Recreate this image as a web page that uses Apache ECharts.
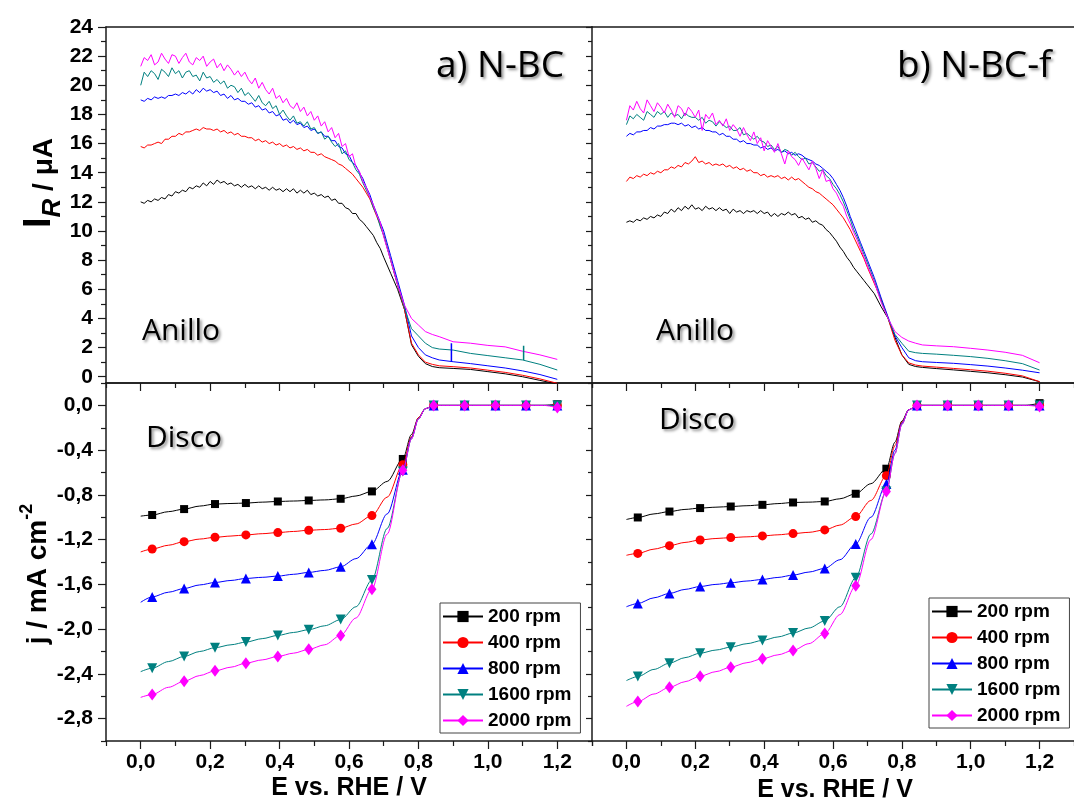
<!DOCTYPE html>
<html>
<head>
<meta charset="utf-8">
<script src="https://cdn.jsdelivr.net/npm/echarts@6/dist/echarts.min.js"></script>
<style>
  html, body { margin: 0; padding: 0; background: #fff; }
  #chart { width: 1074px; height: 800px; }
</style>
</head>
<body>
<div id="chart"></div>
<script>
// ---- datos ----
const rpmNames = ['200 rpm', '400 rpm', '800 rpm', '1600 rpm', '2000 rpm'];
const rpmColors = ['#000000', '#ff0000', '#0000ff', '#008080', '#ff00ff'];

// anillo (I_R / uA) vs E
const ringE = [
  0.00, 0.01, 0.02, 0.03, 0.04, 0.05, 0.06, 0.07, 0.08, 0.09,
  0.10, 0.11, 0.12, 0.13, 0.14, 0.15, 0.16, 0.17, 0.18, 0.19,
  0.20, 0.21, 0.22, 0.23, 0.24, 0.25, 0.26, 0.27, 0.28, 0.29,
  0.30, 0.31, 0.32, 0.33, 0.34, 0.35, 0.36, 0.37, 0.38, 0.39,
  0.40, 0.41, 0.42, 0.43, 0.44, 0.45, 0.46, 0.47, 0.48, 0.49,
  0.50, 0.51, 0.52, 0.53, 0.54, 0.55, 0.56, 0.57, 0.58, 0.59,
  0.60, 0.61, 0.62, 0.63, 0.64, 0.65, 0.66, 0.67, 0.68, 0.69,
  0.70, 0.72, 0.74, 0.76, 0.78, 0.80, 0.82, 0.84, 0.86, 0.90, 0.95, 1.00, 1.05, 1.10, 1.15, 1.20
];

const ringA200 = [
  12.0, 11.9, 12.1, 12.0, 12.2, 12.1, 12.3, 12.2, 12.5, 12.4,
  12.7, 12.6, 12.8, 12.7, 13.0, 12.9, 13.1, 13.0, 13.3, 13.1,
  13.4, 13.2, 13.5, 13.3, 13.4, 13.2, 13.3, 13.1, 13.2, 13.0,
  13.2, 13.0, 13.1, 12.9, 13.1, 12.9, 13.0, 12.8, 13.0, 12.8,
  12.9, 12.7, 12.9, 12.7, 12.9, 12.6, 12.8, 12.6, 12.8, 12.5,
  12.6, 12.4, 12.5, 12.3, 12.4, 12.1, 12.2, 11.9, 11.9, 11.6,
  11.5, 11.2, 11.2, 10.8, 10.6, 10.3, 10.0, 9.7, 9.2, 8.8,
  8.2, 7.1, 6.0, 4.6, 2.2, 1.4, 0.9, 0.7, 0.62, 0.57, 0.5, 0.35, 0.2, 0.0, -0.25, -0.5
];
const ringA400 = [
  15.8, 15.7, 15.9, 15.9, 16.0, 16.1, 16.0, 16.3, 16.3, 16.5,
  16.5, 16.7, 16.6, 16.8, 16.8, 16.9, 17.0, 16.9, 17.1, 17.0,
  17.0, 16.9, 17.0, 16.8, 16.9, 16.7, 16.8, 16.6, 16.7, 16.5,
  16.5, 16.4, 16.4, 16.2, 16.3, 16.1, 16.2, 16.0, 16.1, 15.9,
  16.0, 15.8, 15.9, 15.7, 15.8, 15.6, 15.7, 15.5, 15.6, 15.4,
  15.4, 15.2, 15.3, 15.1, 15.0, 14.9, 14.8, 14.6, 14.5, 14.3,
  14.1, 13.9, 13.6, 13.3, 13.0, 12.6, 12.2, 11.6, 11.0, 10.4,
  9.7, 8.0, 6.3, 4.6, 2.3, 1.5, 1.0, 0.85, 0.75, 0.69, 0.6, 0.45, 0.3, 0.1, -0.15, -0.45
];
const ringA800 = [
  19.0, 18.9, 19.1, 19.0, 19.2, 19.1, 19.2, 19.1, 19.3, 19.3,
  19.4, 19.3, 19.5, 19.4, 19.6, 19.4, 19.7, 19.5, 19.8, 19.6,
  19.7, 19.5, 19.6, 19.3, 19.4, 19.1, 19.3, 19.0, 19.1, 18.9,
  18.9, 18.7, 18.8, 18.5, 18.6, 18.3, 18.4, 18.1, 18.2, 17.9,
  18.0, 17.6, 17.7, 17.4, 17.6, 17.3, 17.4, 17.1, 17.2, 16.9,
  17.0, 16.7, 16.8, 16.5, 16.5, 16.2, 16.2, 15.8, 15.7, 15.3,
  15.2, 14.7, 14.5, 14.0, 13.6, 13.0, 12.5, 11.8, 11.2, 10.6,
  10.0, 8.3, 6.6, 4.9, 2.8, 2.0, 1.5, 1.3, 1.15, 1.03, 0.9, 0.75, 0.6, 0.4, 0.15, -0.18
];
const ringA1600 = [
  20.0, 20.9, 20.6, 21.0, 20.8, 20.4, 21.1, 20.9, 20.6, 21.2,
  20.8, 21.0, 20.5, 20.9, 21.0, 20.6, 20.7, 20.3, 20.9, 20.5,
  20.6, 20.2, 20.4, 20.1, 20.3, 19.8, 20.0, 19.9, 19.5, 19.8,
  19.3, 19.5, 19.2, 18.9, 19.3, 18.8, 18.6, 18.9, 18.4, 18.6,
  18.0, 18.3, 17.9, 17.6, 17.9, 17.4, 17.5, 17.2, 17.5, 17.0,
  17.1, 16.7, 16.8, 16.3, 16.5, 16.1, 15.8, 16.0, 15.3, 15.5,
  14.9, 14.7, 14.2, 13.9, 13.3, 12.8, 12.3, 11.6, 11.1, 10.3,
  9.7, 8.0, 6.3, 4.7, 3.3, 2.8, 2.3, 2.0, 1.9, 1.83, 1.6, 1.45, 1.3, 1.15, 0.85, 0.46
];
const ringA2000 = [
  21.3, 21.9, 21.7, 22.1, 21.4, 21.6, 22.2, 21.8, 21.5, 22.1,
  22.0, 21.5, 21.9, 22.2, 21.6, 21.4, 21.9, 21.7, 22.0, 21.3,
  21.6, 21.8, 21.2, 21.5, 21.0, 21.4, 21.1, 20.7, 21.0, 20.6,
  20.9, 20.4, 20.1, 20.5, 19.8, 20.2, 19.7, 19.4, 19.8, 19.1,
  19.3, 18.8, 19.1, 18.6, 18.4, 18.8, 18.2, 18.5, 17.9, 18.2,
  17.6, 17.9, 17.2, 17.5, 16.8, 17.1, 16.4, 16.7, 15.8, 16.0,
  15.1, 15.3, 14.4, 14.1, 13.4, 13.0, 12.3, 11.8, 11.1, 10.6,
  9.6, 8.0, 6.3, 4.9, 4.0, 3.55, 3.1, 2.9, 2.75, 2.4, 2.3, 2.15, 2.05, 1.75, 1.5, 1.19
];
// picos sueltos en el panel a)
const spikeA800 = [[0.895, 1.03], [0.895, 2.29]];
const spikeA1600 = [[1.103, 1.15], [1.103, 2.13]];

const ringB200 = [
  10.6, 10.7, 10.6, 10.8, 10.7, 10.9, 10.8, 11.0, 10.9, 11.1,
  11.0, 11.3, 11.2, 11.5, 11.3, 11.6, 11.4, 11.7, 11.5, 11.8,
  11.5, 11.6, 11.4, 11.7, 11.5, 11.6, 11.4, 11.6, 11.4, 11.5,
  11.2, 11.5, 11.3, 11.4, 11.2, 11.4, 11.3, 11.4, 11.2, 11.4,
  11.2, 11.3, 11.0, 11.2, 11.0, 11.2, 11.1, 11.3, 11.1, 11.2,
  10.9, 11.0, 10.8, 10.9, 10.6, 10.7, 10.5, 10.4, 10.1, 9.9,
  9.6, 9.3, 8.9, 8.6, 8.2, 7.9, 7.5, 7.2, 6.9, 6.6,
  6.3, 5.7, 4.8, 4.0, 2.7, 1.5, 0.85, 0.7, 0.64, 0.56, 0.47, 0.37, 0.27, 0.14, -0.02, -0.34
];
const ringB400 = [
  13.4, 13.7, 13.6, 13.8, 13.7, 13.9, 13.8, 14.0, 13.9, 14.1,
  14.0, 14.2, 14.2, 14.4, 14.3, 14.5, 14.4, 14.7, 14.6, 14.8,
  15.1, 14.7, 14.8, 14.6, 14.7, 14.5, 14.6, 14.5, 14.6, 14.4,
  14.5, 14.3, 14.4, 14.2, 14.3, 14.1, 14.2, 14.0, 14.0, 13.8,
  13.9, 13.7, 13.8, 13.7, 13.8, 13.6, 13.7, 13.5, 13.7, 13.5,
  13.6, 13.4, 13.2, 13.0, 12.9, 12.7, 12.6, 12.4, 12.2, 12.0,
  11.8, 11.5, 11.2, 10.9, 10.5, 10.1, 9.6, 9.1, 8.6, 8.1,
  7.5, 6.4, 5.3, 4.0, 2.5, 1.5, 0.95, 0.8, 0.73, 0.66, 0.57, 0.48, 0.38, 0.24, 0.06, -0.34
];
const ringB800 = [
  16.5, 16.7, 16.6, 16.8, 16.8, 16.9, 16.9, 17.1, 17.0, 17.2,
  17.2, 17.3, 17.3, 17.4, 17.4, 17.3, 17.4, 17.2, 17.3, 17.1,
  17.2, 17.0, 17.1, 16.9, 16.9, 16.8, 16.8, 16.6, 16.7, 16.5,
  16.5, 16.3, 16.3, 16.1, 16.2, 16.0, 16.0, 15.9, 15.9, 15.7,
  15.8, 15.6, 15.7, 15.5, 15.6, 15.4, 15.5, 15.3, 15.4, 15.2,
  15.3, 15.2, 15.0, 14.9, 14.8, 14.6, 14.5, 14.3, 14.1, 13.9,
  13.6, 13.2, 12.8, 12.3, 11.7, 11.0, 10.4, 9.8, 9.2, 8.6,
  8.0, 6.8, 5.4, 4.1, 2.8, 2.0, 1.3, 1.1, 1.03, 0.98, 0.92, 0.83, 0.73, 0.6, 0.45, 0.27
];
const ringB1600 = [
  17.3, 17.9, 17.7, 18.0, 17.8, 17.6, 18.2, 18.0, 17.8, 18.2,
  18.0, 18.2, 17.8, 18.1, 17.9, 18.0, 17.7, 18.1, 17.9, 17.8,
  17.8, 17.6, 17.8, 17.4, 17.6, 17.5, 17.2, 17.5, 17.3, 17.1,
  17.2, 16.9, 16.9, 17.1, 16.6, 16.7, 16.5, 16.3, 16.5, 16.2,
  16.1, 15.8, 15.9, 15.6, 15.8, 15.4, 15.6, 15.5, 15.2, 15.4,
  15.1, 14.9, 15.0, 14.6, 14.7, 14.4, 14.1, 14.2, 13.8, 13.6,
  13.2, 12.9, 12.5, 12.0, 11.4, 10.8, 10.1, 9.6, 9.0, 8.4,
  7.8, 6.6, 5.2, 4.0, 2.9, 2.3, 1.75, 1.65, 1.6, 1.55, 1.47, 1.38, 1.26, 1.1, 0.9, 0.46
];
const ringB2000 = [
  17.6, 18.6, 18.3, 18.9, 18.4, 18.1, 19.0, 18.6, 18.2, 18.8,
  18.5, 18.1, 18.7, 18.3, 17.8, 18.6, 18.4, 17.9, 18.5, 18.2,
  17.8, 18.3, 16.9, 18.0, 17.7, 18.1, 17.3, 17.6, 17.2, 17.7,
  16.9, 17.3, 17.0, 16.5, 17.1, 16.6, 16.2, 16.8, 16.0, 16.4,
  15.5, 16.2, 15.8, 15.4, 16.0, 15.3, 14.6, 15.5, 15.1, 14.9,
  14.5, 15.0, 14.6, 14.2, 14.8, 14.3, 13.6, 14.2, 13.4, 13.5,
  12.9, 12.6, 12.1, 11.7, 11.0, 10.5, 9.9, 9.4, 8.8, 8.2,
  7.6, 6.5, 5.1, 4.0, 3.1, 2.7, 2.45, 2.3, 2.18, 2.12, 2.06, 1.95, 1.83, 1.68, 1.47, 0.96
];

// disco (j / mA cm-2) vs E ; los simbolos van en diskMarkIdx
const diskE = [0.00, 0.033, 0.08, 0.125, 0.17, 0.214, 0.26, 0.303, 0.35, 0.395, 0.44, 0.484, 0.53, 0.576, 0.62,
  0.666, 0.71, 0.755, 0.78, 0.80, 0.82, 0.844, 0.89, 0.933, 0.98, 1.022, 1.07, 1.11, 1.16, 1.20];
const diskMarkIdx = [1, 3, 5, 7, 9, 11, 13, 15, 17, 21, 23, 25, 27, 29];

const diskA200 = [-0.99, -0.98, -0.95, -0.927, -0.90, -0.882, -0.877, -0.873, -0.865, -0.859, -0.855, -0.85, -0.845, -0.835, -0.81,
  -0.769, -0.68, -0.479, -0.26, -0.11, -0.03, 0, 0, 0, 0, 0, 0, 0, 0, 0.01];
const diskA400 = [-1.31, -1.284, -1.25, -1.218, -1.195, -1.179, -1.168, -1.158, -1.147, -1.137, -1.127, -1.116, -1.11, -1.098, -1.06,
  -0.985, -0.82, -0.53, -0.28, -0.11, -0.03, 0, 0, 0, 0, 0, 0, 0, 0, 0];
const diskA800 = [-1.76, -1.712, -1.67, -1.637, -1.605, -1.583, -1.565, -1.547, -1.537, -1.526, -1.51, -1.493, -1.475, -1.443, -1.37,
  -1.241, -0.97, -0.575, -0.29, -0.12, -0.03, 0, 0, 0, 0, 0, 0, 0, 0, 0];
const diskA1600 = [-2.38, -2.349, -2.29, -2.244, -2.2, -2.166, -2.14, -2.116, -2.085, -2.056, -2.03, -2.005, -1.97, -1.915, -1.8,
  -1.562, -1.1, -0.59, -0.3, -0.12, -0.03, 0, 0, 0, 0, 0, 0, 0, 0, 0];
const diskA2000 = [-2.61, -2.585, -2.52, -2.466, -2.415, -2.373, -2.34, -2.304, -2.275, -2.244, -2.215, -2.181, -2.14, -2.056, -1.9,
  -1.643, -1.15, -0.58, -0.3, -0.12, -0.03, 0, 0, 0, 0, 0, 0, 0, 0, -0.02];

const diskB200 = [-1.02, -1.002, -0.97, -0.949, -0.93, -0.918, -0.91, -0.904, -0.897, -0.889, -0.878, -0.868, -0.865, -0.859, -0.835,
  -0.79, -0.70, -0.566, -0.33, -0.14, -0.04, 0, 0, 0, 0, 0, 0, 0, 0, 0.02];
const diskB400 = [-1.34, -1.323, -1.285, -1.254, -1.225, -1.203, -1.19, -1.182, -1.175, -1.167, -1.157, -1.146, -1.135, -1.113, -1.07,
  -0.994, -0.85, -0.628, -0.36, -0.15, -0.04, 0, 0, 0, 0, 0, 0, 0, 0, 0];
const diskB800 = [-1.80, -1.771, -1.72, -1.681, -1.645, -1.619, -1.6, -1.586, -1.57, -1.556, -1.538, -1.517, -1.49, -1.457, -1.38,
  -1.239, -1.0, -0.703, -0.4, -0.16, -0.04, 0, 0, 0, 0, 0, 0, 0, 0, 0];
const diskB1600 = [-2.46, -2.424, -2.36, -2.304, -2.255, -2.215, -2.187, -2.161, -2.13, -2.101, -2.07, -2.035, -1.99, -1.927, -1.8,
  -1.541, -1.15, -0.769, -0.43, -0.17, -0.04, 0, 0, 0, 0, 0, 0, 0, 0, 0];
const diskB2000 = [-2.69, -2.648, -2.58, -2.52, -2.47, -2.421, -2.38, -2.34, -2.3, -2.265, -2.23, -2.19, -2.13, -2.04, -1.87,
  -1.613, -1.2, -0.769, -0.43, -0.17, -0.04, 0, 0, 0, 0, 0, 0, 0, 0, -0.01];

// marcas de los ejes
const xMajor = [0, 0.2, 0.4, 0.6, 0.8, 1.0, 1.2];
const xMinor = [-0.1, 0.1, 0.3, 0.5, 0.7, 0.9, 1.1, 1.3];
const ringMajor = [0, 2, 4, 6, 8, 10, 12, 14, 16, 18, 20, 22, 24];
const ringMinor = [1, 3, 5, 7, 9, 11, 13, 15, 17, 19, 21, 23];
const diskMajor = [0, -0.4, -0.8, -1.2, -1.6, -2.0, -2.4, -2.8];
const diskMinor = [0.2, -0.2, -0.6, -1.0, -1.4, -1.8, -2.2, -2.6, -3.0];

// ---- grafico ----
const chart = echarts.init(document.getElementById('chart'));
const AX = '#1a1a1a';
const LABEL_FONT = "'Liberation Sans', Arial, sans-serif";
const TEXT_FONT = "'Open Sans', 'Noto Sans', sans-serif";

const grids = [
  { left: 106, top: 27, width: 486, height: 356 },   // a) anillo
  { left: 592, top: 27, width: 486, height: 356 },   // b) anillo
  { left: 106, top: 383, width: 486, height: 358 },  // a) disco
  { left: 592, top: 383, width: 486, height: 358 }   // b) disco
];

const comma = v => (v === 0 ? '0,0' : v.toFixed(1).replace('.', ','));

const xAxes = [];
const yAxes = [];

// agrega un lado del marco; devuelve el indice del eje principal
function side(list, grid, pos, min, max, o) {
  const base = { type: 'value', gridIndex: grid, position: pos, min: min, max: max, splitLine: { show: false } };
  const idx = list.length;
  list.push(Object.assign({}, base, {
    axisLine: { show: o.line !== false, onZero: false, lineStyle: { color: AX, width: 1.5 } },
    axisTick: o.minor ? {
      show: true, inside: !!o.inside, length: o.minorLen, customValues: o.minor,
      lineStyle: { color: AX, width: 1.2 }
    } : { show: false },
    axisLabel: o.labels ? {
      show: true, customValues: o.major, formatter: o.fmt, margin: o.margin,
      color: '#000', fontSize: 21, fontWeight: 'bold', fontFamily: LABEL_FONT
    } : { show: false }
  }));
  if (o.major && o.majorLen) {
    list.push(Object.assign({}, base, {
      axisLine: { show: false, onZero: false },
      axisTick: {
        show: true, inside: !!o.inside, length: o.majorLen, customValues: o.major,
        lineStyle: { color: AX, width: 1.2 }
      },
      axisLabel: { show: false }
    }));
  }
  return idx;
}

const mainX = [];
const mainY = [];
grids.forEach((g, i) => {
  const isDisk = i >= 2;
  const isLeft = i % 2 === 0;
  const yMin = isDisk ? -3.0 : -0.43;
  const yMax = isDisk ? 0.2 : 24;
  const yMaj = isDisk ? diskMajor : ringMajor;
  const yMin2 = isDisk ? diskMinor : ringMinor;

  mainX.push(side(xAxes, i, 'bottom', -0.1, 1.3, {
    major: xMajor, minor: xMinor, majorLen: 8, minorLen: 5,
    labels: isDisk, fmt: comma, margin: 11
  }));
  side(xAxes, i, 'top', -0.1, 1.3, {});

  if (isLeft) {
    mainY.push(side(yAxes, i, 'left', yMin, yMax, {
      major: yMaj, minor: yMin2, majorLen: 8, minorLen: 5,
      labels: true, fmt: isDisk ? comma : (v => String(v)), margin: 13
    }));
    side(yAxes, i, 'right', yMin, yMax, {
      major: yMaj, minor: yMin2, majorLen: 6, minorLen: 4, inside: true
    });
  } else {
    mainY.push(side(yAxes, i, 'left', yMin, yMax, { line: false }));
  }
});

const zip = (xs, ys) => xs.map((x, k) => [x, ys[k]]);

const ringSets = [
  [ringA200, ringA400, ringA800, ringA1600, ringA2000],
  [ringB200, ringB400, ringB800, ringB1600, ringB2000]
];
const diskSets = [
  [diskA200, diskA400, diskA800, diskA1600, diskA2000],
  [diskB200, diskB400, diskB800, diskB1600, diskB2000]
];
const symbols = ['rect', 'circle', 'triangle', 'triangle', 'diamond'];
const symbolSizes = [8, 9, 10, 10, [9, 12]];
const symbolRot = [0, 0, 0, 180, 0];

const series = [];
ringSets.forEach((set, p) => {
  set.forEach((vals, k) => {
    series.push({
      name: 'anillo ' + p + ' ' + rpmNames[k],
      type: 'line', xAxisIndex: mainX[p], yAxisIndex: mainY[p],
      data: zip(ringE, vals), showSymbol: false, symbol: 'none',
      lineStyle: { color: rpmColors[k], width: 1 }, itemStyle: { color: rpmColors[k] },
      clip: true, silent: true, z: 2 + k
    });
  });
});
[[spikeA800, rpmColors[2]], [spikeA1600, rpmColors[3]]].forEach(s => {
  series.push({
    name: 'pico', type: 'line', xAxisIndex: mainX[0], yAxisIndex: mainY[0],
    data: s[0], symbol: 'none', lineStyle: { color: s[1], width: 1.5 }, silent: true, z: 8
  });
});
diskSets.forEach((set, p) => {
  set.forEach((vals, k) => {
    series.push({
      name: rpmNames[k],
      type: 'line', xAxisIndex: mainX[p + 2], yAxisIndex: mainY[p + 2],
      data: diskE.map((e, i) => diskMarkIdx.indexOf(i) >= 0
        ? { value: [e, vals[i]] }
        : { value: [e, vals[i]], symbol: 'none' }),
      symbol: symbols[k], symbolSize: symbolSizes[k], symbolRotate: symbolRot[k],
      showAllSymbol: true, smooth: 0.3, smoothMonotone: 'x',
      lineStyle: { color: rpmColors[k], width: 1 }, itemStyle: { color: rpmColors[k] },
      clip: true, z: 2 + k
    });
  });
});

function legendAt(left, top) {
  return {
    data: rpmNames, orient: 'vertical', left: left, top: top,
    itemWidth: 40, itemHeight: 14, itemGap: 7,
    padding: [4, 9, 3, 2],
    borderColor: '#444', borderWidth: 1, backgroundColor: '#fff',
    textStyle: { color: '#000', fontSize: 19, fontWeight: 'bold', fontFamily: LABEL_FONT },
    selectedMode: false
  };
}

const shadow = { textShadowColor: 'rgba(0,0,0,0.45)', textShadowBlur: 3, textShadowOffsetX: 2, textShadowOffsetY: 2,
  shadowColor: 'rgba(0,0,0,0.45)', shadowBlur: 3, shadowOffsetX: 2, shadowOffsetY: 2 };

function tag(text, x, y, size) {
  return {
    type: 'text', x: x, y: y, silent: true, z: 100,
    style: Object.assign({ text: text, fill: '#000', font: '400 ' + size + 'px ' + TEXT_FONT, align: 'left', verticalAlign: 'middle' }, shadow)
  };
}

const graphics = [
  tag('a) N-BC', 436, 66, 37),
  tag('b) N-BC-f', 897, 66, 37),
  tag('Anillo', 142, 331, 30),
  tag('Anillo', 656, 331, 30),
  tag('Disco', 146, 438, 30),
  tag('Disco', 659, 420, 30),
  {
    type: 'text', x: 43, y: 183, rotation: Math.PI / 2, silent: true,
    style: {
      text: '{a|I}{b|R}{c| / μA}', align: 'center', verticalAlign: 'middle', fill: '#000',
      rich: {
        a: { fontSize: 38, fontWeight: 'bold', fontFamily: LABEL_FONT, verticalAlign: 'bottom', padding: [0, 0, 7, 0] },
        b: { fontSize: 26, fontWeight: 'bold', fontStyle: 'italic', fontFamily: LABEL_FONT, verticalAlign: 'bottom' },
        c: { fontSize: 28, fontWeight: 'bold', fontFamily: LABEL_FONT, verticalAlign: 'bottom', padding: [0, 0, 7, 0] }
      }
    }
  },
  {
    type: 'text', x: 35, y: 574, rotation: Math.PI / 2, silent: true,
    style: {
      text: '{a|j / mA cm}{b|-2}', align: 'center', verticalAlign: 'middle', fill: '#000',
      rich: {
        a: { fontSize: 28, fontWeight: 'bold', fontFamily: LABEL_FONT, verticalAlign: 'bottom', padding: [6, 0, 0, 0] },
        b: { fontSize: 18, fontWeight: 'bold', fontFamily: LABEL_FONT, verticalAlign: 'top' }
      }
    }
  },
  {
    type: 'text', x: 349, y: 776, silent: true,
    style: { text: 'E vs. RHE / V', fill: '#000', font: 'bold 25px ' + LABEL_FONT, align: 'center', verticalAlign: 'top' }
  },
  {
    type: 'text', x: 835, y: 778, silent: true,
    style: { text: 'E vs. RHE / V', fill: '#000', font: 'bold 25px ' + LABEL_FONT, align: 'center', verticalAlign: 'top' }
  }
];

chart.setOption({
  animation: false,
  backgroundColor: '#fff',
  grid: grids,
  xAxis: xAxes,
  yAxis: yAxes,
  legend: [legendAt(440, 603), legendAt(929, 598)],
  series: series,
  graphic: graphics
});
</script>
</body>
</html>
